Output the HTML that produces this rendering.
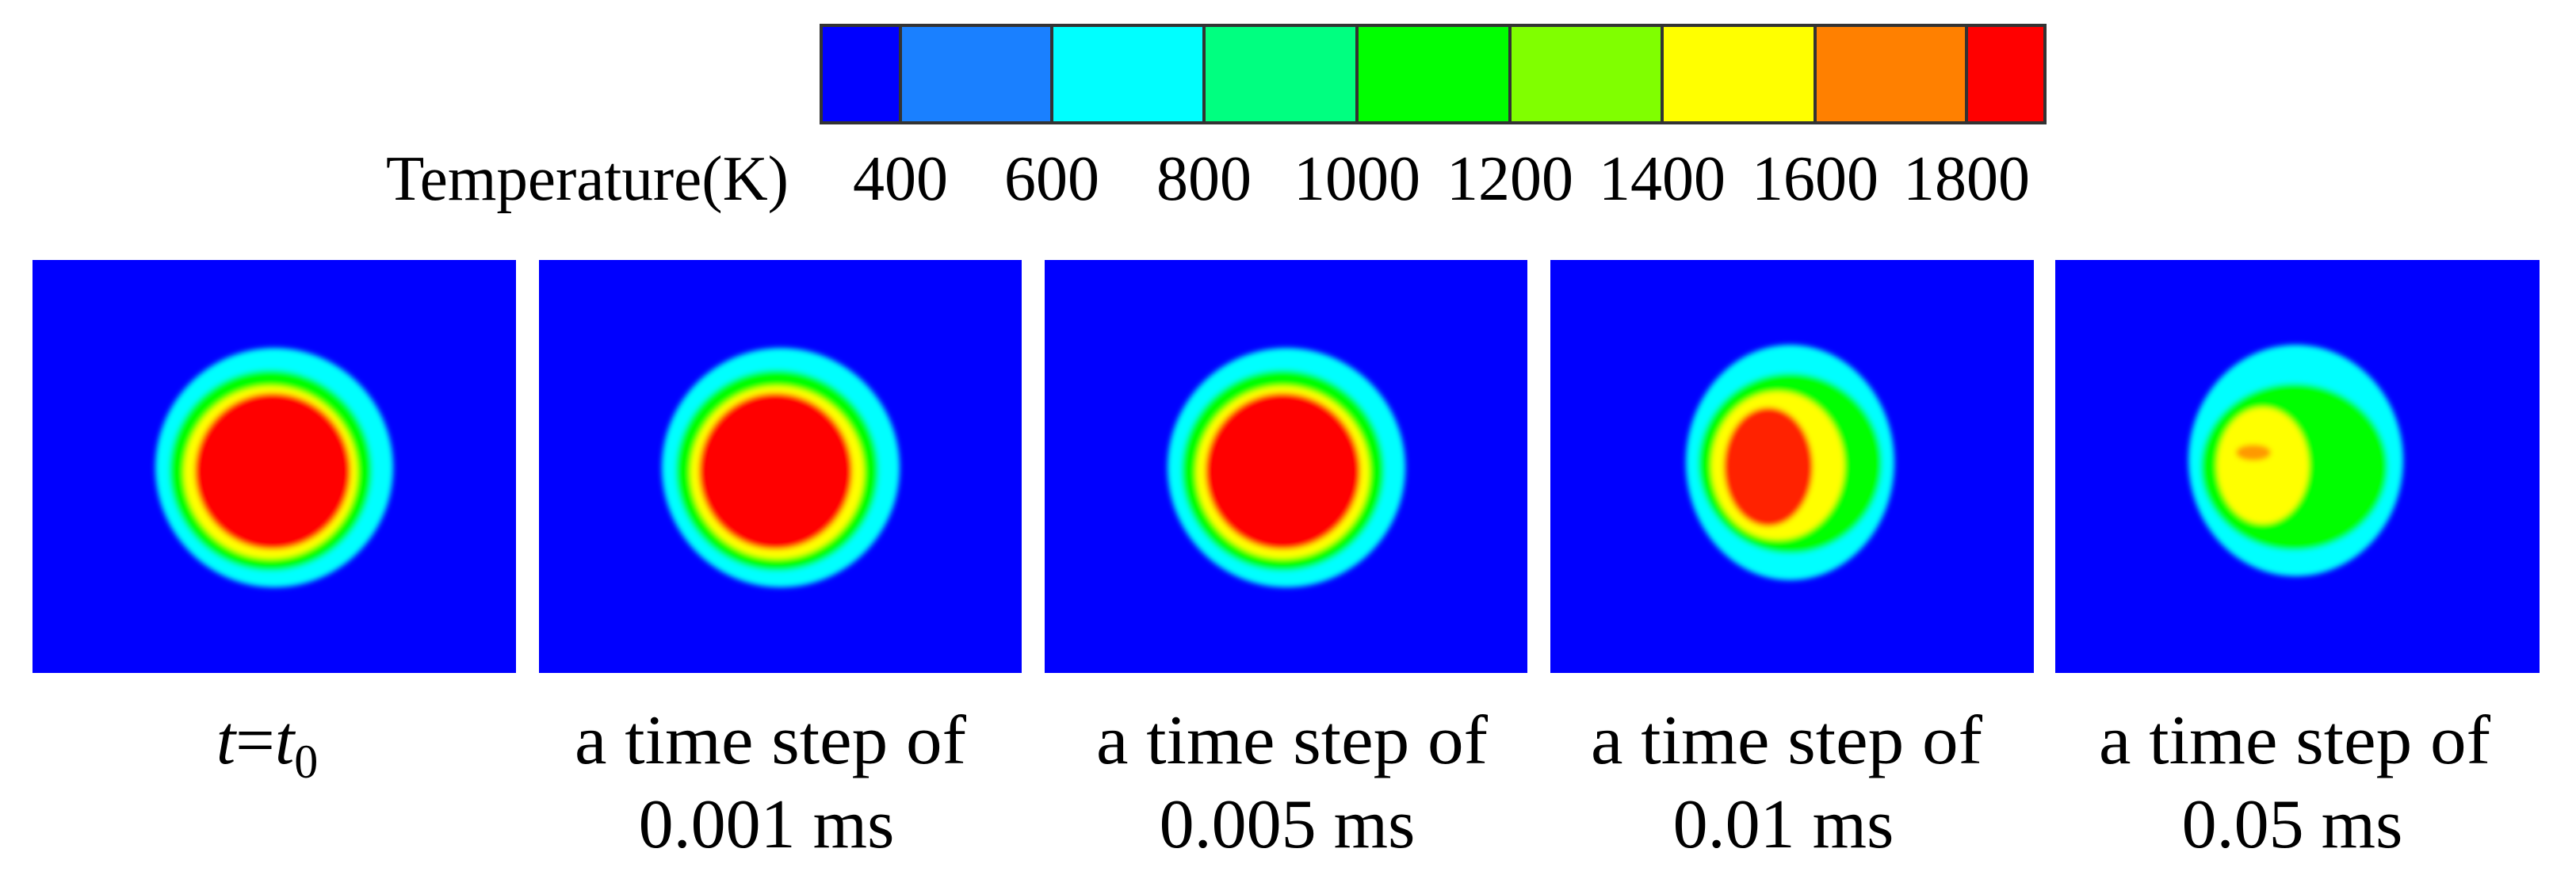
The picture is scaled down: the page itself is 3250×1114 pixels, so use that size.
<!DOCTYPE html>
<html><head><meta charset="utf-8"><style>
html,body{margin:0;padding:0;background:#fff;}
svg{display:block;font-family:"Liberation Serif","DejaVu Serif",serif;}
</style></head><body>
<svg id="fig" width="3250" height="1114" viewBox="0 0 3250 1114" xmlns="http://www.w3.org/2000/svg">
<defs><filter id="bl" x="-20%" y="-20%" width="140%" height="140%"><feGaussianBlur stdDeviation="3.5"/></filter></defs>
<g id="cbar"></g>
<g id="cbticks"></g>
<text x="487" y="252" font-size="80" textLength="508" lengthAdjust="spacingAndGlyphs">Temperature(K)</text>
<g id="panels"></g>
<g id="caps" font-size="88">
<text x="337" y="963" text-anchor="middle"><tspan font-style="italic">t</tspan>=<tspan font-style="italic">t</tspan><tspan font-size="60" dy="18">0</tspan></text>
</g>
</svg>
<script>
const NS='http://www.w3.org/2000/svg';
const cbColors=['#0000ff','#1a80ff','#00ffff','#00ff80','#00ff00','#80ff00','#ffff00','#ff8000','#ff0000'];
const cbEdges=[1036,1136,1327,1519,1712,1905,2097,2290,2481,2580];
const tickLabels=['400','600','800','1000','1200','1400','1600','1800'];
const panelX=[[41,651],[680,1289],[1318,1927],[1956,2566],[2593,3204]];
const panelY=[328,849];
const bandColors=['#00ffff','#00ff00','#ffff00','#ff0000'];
const bandsP1=[[196,496,439,741],[214,469,467,720],[232,451,487,705],[246,442,496,693]];
const bandsP2=[[835,1135,439,741],[853,1108,467,720],[871,1090,487,705],[882,1075,496,693]];
const bandsP3=[[1473,1773,439,741],[1491,1746,467,720],[1509,1728,487,705],[1521,1716,496,693]];
const bandsP4=[[2127,2390,435,732],[2143,2374,471,698],[2159,2327,494,681],[2175,2287,514,664]];
const bandsP5=[[2761,3032,435,727],[2777,3012,484,694],[2797,2913,514,661],[2821,2865,561,581]];
const innerColor=['#ff0000','#ff0000','#ff0000','#ff2200','#ff9900'];
const capLine1=['a time step of','a time step of','a time step of','a time step of'];
const capLine2=['0.001 ms','0.005 ms','0.01 ms','0.05 ms'];
const capX1=[972,1630,2254,2895];
const capX2=[967,1624,2250,2892];
const allBands=[bandsP1,bandsP2,bandsP3,bandsP4,bandsP5];

const cb=document.getElementById('cbar');
for(let i=0;i<cbColors.length;i++){
  const r=document.createElementNS(NS,'rect');
  
  
  r.setAttribute('x',cbEdges[i]);r.setAttribute('y',32);
  r.setAttribute('width',cbEdges[i+1]-cbEdges[i]);r.setAttribute('height',123);
  r.setAttribute('fill',cbColors[i]);r.setAttribute('stroke','#333');r.setAttribute('stroke-width',4);
  cb.appendChild(r);
}
const tk=document.getElementById('cbticks');
tickLabels.forEach((t,i)=>{
  const e=document.createElementNS(NS,'text');
  
  
  e.setAttribute('x',cbEdges[i+1]);e.setAttribute('y',252);e.setAttribute('font-size',80);
  e.setAttribute('text-anchor','middle');e.textContent=t;tk.appendChild(e);
});
const pg=document.getElementById('panels');
panelX.forEach((px,p)=>{
  const g=document.createElementNS(NS,'g');
  
  
  const bg=document.createElementNS(NS,'rect');
  
  
  bg.setAttribute('x',px[0]);bg.setAttribute('y',panelY[0]);
  bg.setAttribute('width',px[1]-px[0]);bg.setAttribute('height',panelY[1]-panelY[0]);
  bg.setAttribute('fill','#0000ff');g.appendChild(bg);
  const hg=document.createElementNS(NS,'g');hg.setAttribute('filter','url(#bl)');
  allBands[p].forEach((b,k)=>{
    const el=document.createElementNS(NS,'ellipse');
    
    
    el.setAttribute('cx',(b[0]+b[1])/2);el.setAttribute('cy',(b[2]+b[3])/2);
    el.setAttribute('rx',(b[1]-b[0])/2);el.setAttribute('ry',(b[3]-b[2])/2);
    el.setAttribute('fill',k===3?innerColor[p]:bandColors[k]);
    hg.appendChild(el);
  });
  g.appendChild(hg);pg.appendChild(g);
});
const cp=document.getElementById('caps');
capLine1.forEach((t,i)=>{
  const a=document.createElementNS(NS,'text');
  
  
  a.setAttribute('x',capX1[i]);a.setAttribute('y',963);a.setAttribute('text-anchor','middle');
  a.setAttribute('textLength',494);a.setAttribute('lengthAdjust','spacingAndGlyphs');
  a.textContent=t;cp.appendChild(a);
  const b=document.createElementNS(NS,'text');
  
  
  b.setAttribute('x',capX2[i]);b.setAttribute('y',1069);b.setAttribute('text-anchor','middle');
  b.textContent=capLine2[i];cp.appendChild(b);
});
</script>
</body></html>
